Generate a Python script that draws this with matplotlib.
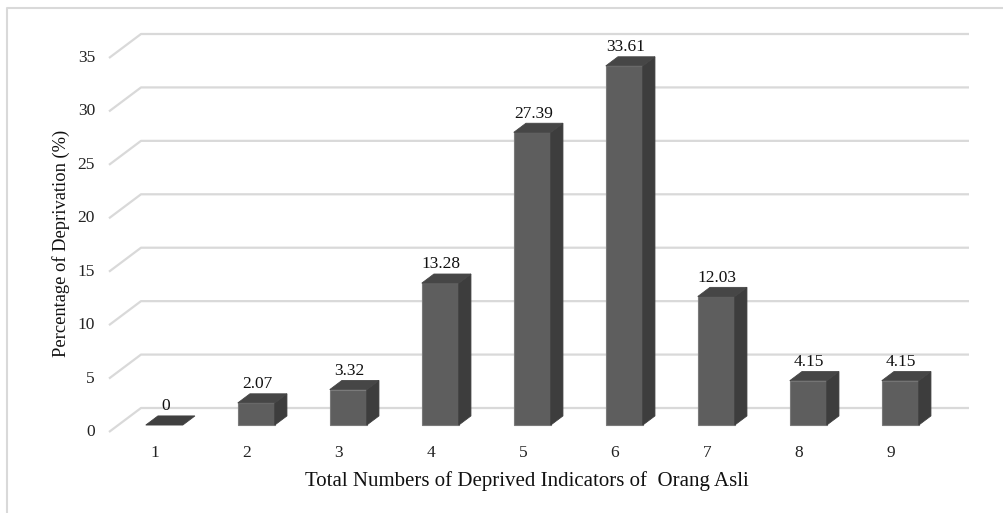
import matplotlib
matplotlib.use("Agg")
import matplotlib.pyplot as plt
from matplotlib.patches import Polygon

# Data
categories = ["1", "2", "3", "4", "5", "6", "7", "8", "9"]
values = [0, 2.07, 3.32, 13.28, 27.39, 33.61, 12.03, 4.15, 4.15]
y_ticks = [0, 5, 10, 15, 20, 25, 30, 35]
x_title = "Total Numbers of Deprived Indicators of  Orang Asli"
y_title = "Percentage of Deprivation (%)"

W, H = 1004, 513
plt.rcParams["font.family"] = ["Liberation Serif", "DejaVu Serif"]

fig = plt.figure(figsize=(W / 100, H / 100), dpi=100)
ax = fig.add_axes([0, 0, 1, 1])
ax.set_axis_off()

# pixel layout of the plot area: category spacing and value scale
X0_PX, CAT_PX = 109, 92.0        # left edge of category 1 slot, slot width
Y0_PX, UNIT_PX = 432, 374 / 35   # front baseline, pixels per percent


def px(x, y):
    """pixel position (from top-left) -> data coordinates"""
    return 0.5 + (x - X0_PX) / CAT_PX, (Y0_PX - y) / UNIT_PX


xl0, yl1 = px(0, 0)
xl1, yl0 = px(W, H)
ax.set_xlim(xl0, xl1)
ax.set_ylim(yl0, yl1)

# oblique depth offset of the back wall (data units)
DX = 32 / CAT_PX
DY = 24 / UNIT_PX
Z_FRONT, Z_BACK = 0.29, 0.67     # bar depth inside the floor
BAR_W = 37 / CAT_PX

grid_c = "#d9d9d9"
n = len(categories)
x_left, x_right = 0.5, n + 0.5

# gridlines on the side and back walls
for v in y_ticks:
    ax.plot([x_left, x_left + DX, x_right + DX], [v, v + DY, v + DY],
            color=grid_c, lw=1.6, solid_capstyle="butt", zorder=1)
    tx, _ = px(95, 0)
    ax.text(tx, v, str(v), ha="right", va="center", fontsize=12.5, color="#222222")

front_c, side_c, top_c, edge_c = "#5e5e5e", "#3d3d3d", "#464646", "#7a7a7a"

for i, (cat, v) in enumerate(zip(categories, values)):
    c = i + 1
    ox0, oy0 = Z_FRONT * DX, Z_FRONT * DY
    ox1, oy1 = Z_BACK * DX, Z_BACK * DY
    l = c - BAR_W / 2
    r = c + BAR_W / 2
    # front face
    front = [(l + ox0, oy0), (r + ox0, oy0), (r + ox0, v + oy0), (l + ox0, v + oy0)]
    # right side face
    side = [(r + ox0, oy0), (r + ox1, oy1), (r + ox1, v + oy1), (r + ox0, v + oy0)]
    # top face
    top = [(l + ox0, v + oy0), (r + ox0, v + oy0), (r + ox1, v + oy1), (l + ox1, v + oy1)]
    if v > 0:
        ax.add_patch(Polygon(front, closed=True, fc=front_c, ec=edge_c, lw=0.8, zorder=3))
        ax.add_patch(Polygon(side, closed=True, fc=side_c, ec=side_c, lw=0.6, zorder=3))
        ax.add_patch(Polygon(top, closed=True, fc=top_c, ec=top_c, lw=0.6, zorder=3))
    else:
        ax.add_patch(Polygon(top, closed=True, fc="#404040", ec="#404040", lw=0.6, zorder=3))

    # value label above the bar
    lab = f"{v:g}" if v != 0 else "0"
    lab = f"{v:.2f}" if v != 0 else "0"
    ax.text(c + ox0 + 0.01, v + oy1 + 0.15, lab, ha="center", va="bottom",
            fontsize=12.5, color="#111111", zorder=4)

    # category label
    _, ty = px(0, 453)
    ax.text(c, ty, cat, ha="center", va="center", fontsize=12.5, color="#222222")

# axis titles
tx, ty = px(527, 481)
ax.text(tx, ty, x_title, ha="center", va="center", fontsize=15, color="#111111")
tx, ty = px(61, 243)
ax.text(tx, ty, y_title, ha="center", va="center", rotation=90, fontsize=13.3,
        color="#111111")

# chart border (top and left edges)
bx, by_top = px(7, 8)
_, by_bot = px(0, H)
bx_r, _ = px(W, 0)
ax.plot([bx, bx, bx_r], [by_bot, by_top, by_top], color=grid_c, lw=1.5, zorder=0,
        clip_on=False)

fig.savefig("out.png", dpi=100)
